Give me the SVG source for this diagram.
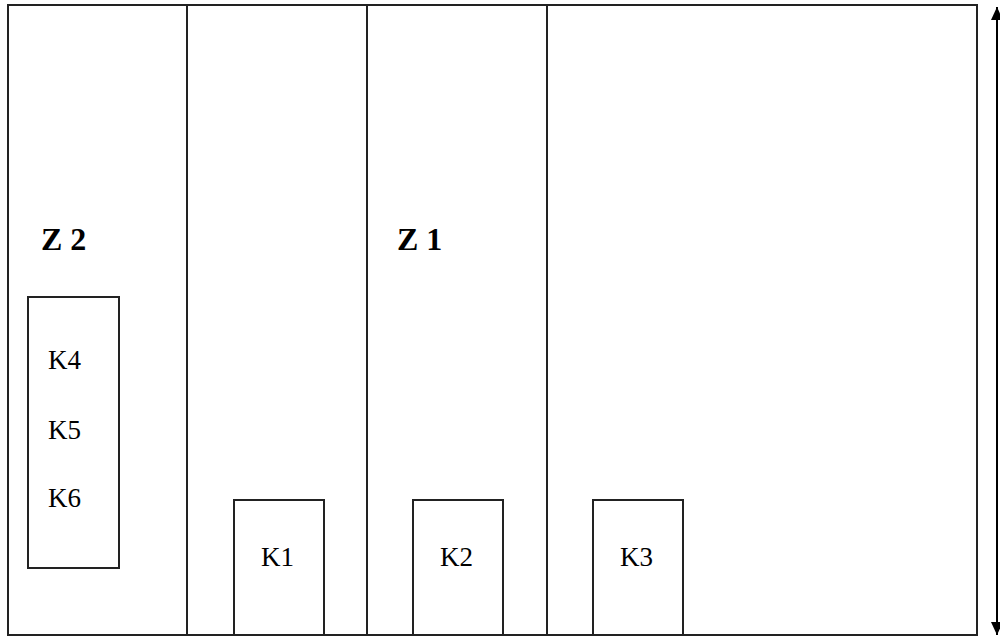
<svg xmlns="http://www.w3.org/2000/svg" width="1000" height="637" viewBox="0 0 1000 637">
<style>
.ln{fill:none;stroke:#222;stroke-width:2}
.k{font-family:"Liberation Serif",serif;font-size:27px;fill:#000}
.z{font-family:"Liberation Serif",serif;font-size:32px;font-weight:bold;fill:#000}
</style>
<defs>
<marker id="ah" viewBox="0 0 13 12" refX="13" refY="6" markerWidth="13" markerHeight="12" markerUnits="userSpaceOnUse" orient="auto-start-reverse">
<path d="M0,0 L13,6 L0,12 z" fill="#000"/>
</marker>
</defs>
<rect width="1000" height="637" fill="#fff"/>
<g id="frame">
<rect class="ln" x="8" y="5" width="969" height="630"/>
<line class="ln" x1="187" y1="5" x2="187" y2="635"/>
<line class="ln" x1="367" y1="5" x2="367" y2="635"/>
<line class="ln" x1="547" y1="5" x2="547" y2="635"/>
</g>
<g id="z2"><text class="z" x="41" y="250">Z 2</text></g>
<g id="z1"><text class="z" x="397" y="250">Z 1</text></g>
<g id="k456">
<rect class="ln" x="28" y="297" width="91" height="271" fill="none"/>
<text class="k" x="48" y="369">K4</text>
<text class="k" x="48" y="439">K5</text>
<text class="k" x="48" y="507">K6</text>
</g>
<g id="k1"><rect class="ln" x="234" y="500" width="90" height="135"/><text class="k" x="261" y="566">K1</text></g>
<g id="k2"><rect class="ln" x="413" y="500" width="90" height="135"/><text class="k" x="440" y="566">K2</text></g>
<g id="k3"><rect class="ln" x="593" y="500" width="90" height="135"/><text class="k" x="620" y="566">K3</text></g>
<g id="connectors">
<line x1="997" y1="7" x2="997" y2="635" stroke="#000" stroke-width="2" marker-start="url(#ah)" marker-end="url(#ah)"/>
</g>
</svg>
